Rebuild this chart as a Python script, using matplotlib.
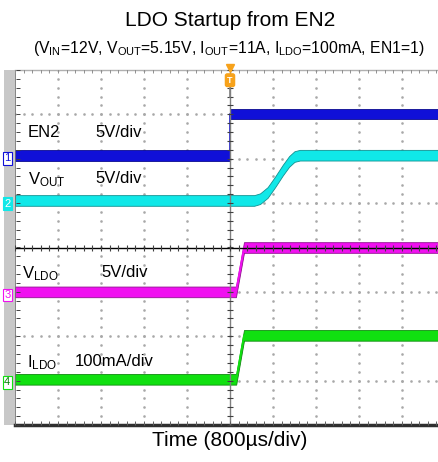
import numpy as np
import matplotlib
matplotlib.use("Agg")
import matplotlib.pyplot as plt
from matplotlib.patches import Rectangle

plt.rcParams['font.family'] = ['Liberation Sans', 'DejaVu Sans']
plt.rcParams['mathtext.fontset'] = 'custom'
plt.rcParams['mathtext.rm'] = 'Liberation Sans'
plt.rcParams['mathtext.it'] = 'Liberation Sans:italic'

# Scope settings
us_per_div = 800
# channel: (volts or mA per div, offset in div)
en2_scale, en2_offset = 5, 2.08
vout_scale, vout_offset = 5, 1.06
vldo_scale, vldo_offset = 5, -1.0
ildo_scale, ildo_offset = 100, -2.97

# Traces (time in us, value in V or mA)
en2_t = [-4000, 0, 0, 4000]
en2_v = [0, 0, 4.65, 4.65]

vout_t = [-4000, 450, 560, 700, 840, 980, 1100, 1200, 1300, 4000]
vout_v = [0, 0, 0.2, 0.9, 2.1, 3.4, 4.4, 4.95, 5.1, 5.1]

vldo_t = [-4000, 110, 260, 4000]
vldo_v = [0, 0, 5.0, 5.0]

ildo_t = [-4000, 115, 260, 4000]
ildo_ma = [0, 0, 99, 99]

c_blue = '#1010d8'
c_cyan = '#10e8e8'
c_mag = '#f010f0'
c_green = '#10e010'
c_orange = '#f7a21b'

W, H = 438, 462
fig = plt.figure(figsize=(W / 100, H / 100), dpi=100)

# gray side bar
x0, x1, yb, yt = 15, 438, 37, 392
fig.patches.append(Rectangle((4 / W, yb / H), (x0 - 4) / W, (yt - yb) / H,
                             transform=fig.transFigure, facecolor='#c8c8c8',
                             edgecolor='none', zorder=0))

ax = fig.add_axes([x0 / W, yb / H, (x1 - x0) / W, (yt - yb) / H])
ax.set_zorder(2)
ax.patch.set_alpha(0)
ax.set_xlim(-5, (x1 - x0) / 43.0 - 5)
ax.set_ylim(-4, 4)
ax.set_xticks([])
ax.set_yticks([])
for s in ['left', 'right']:
    ax.spines[s].set_visible(False)
ax.spines['top'].set_color('#b0b0b0')
ax.spines['top'].set_linewidth(1)
ax.spines['bottom'].set_color('#303030')
ax.spines['bottom'].set_linewidth(2.5)
ax.axvline(-5, color='#707070', lw=1.2, zorder=3)
ax.add_patch(Rectangle((-5, -4), 10, 8, facecolor='white', edgecolor='none',
                       zorder=0))

# dotted graticule
minor_x = np.arange(-5, 5.01, 0.2)
minor_y = np.arange(-4, 4.01, 0.2)
for gx in range(-4, 5):
    if gx == 0:
        continue
    ax.plot(np.full_like(minor_y, gx), minor_y, ls='none', marker='s',
            ms=0.8, color='#a8a8a8', zorder=1)
for gy in range(-3, 4):
    if gy == 0:
        continue
    ax.plot(minor_x, np.full_like(minor_x, gy), ls='none', marker='s',
            ms=0.8, color='#a8a8a8', zorder=1)

# traces: noisy band drawn as a filled strip
half = 0.12
def draw(t, v, scale, off, color, edge):
    x = np.array(t) / us_per_div
    y = np.array(v) / scale + off
    ax.fill_between(x, y - half, y + half, facecolor=color, edgecolor=edge,
                    lw=0.6, zorder=2)
    ax.plot(x, y, color=color, lw=1.2, zorder=2)

draw(en2_t, en2_v, en2_scale, en2_offset, c_blue, '#0a0a90')
draw(vout_t, vout_v, vout_scale, vout_offset, c_cyan, '#109090')
draw(vldo_t, vldo_v, vldo_scale, vldo_offset, c_mag, '#901090')
draw(ildo_t, ildo_ma, ildo_scale, ildo_offset, c_green, '#108a10')

# centre axes with tick marks
ax.axhline(0, color='black', lw=1.0, zorder=4)
ax.axvline(0, color='#808080', lw=1.0, zorder=4)
ax.plot(minor_x, np.zeros_like(minor_x), ls='none', marker='|', ms=4,
        mew=0.8, color='#404040', zorder=4)
ax.plot(np.zeros_like(minor_y), minor_y, ls='none', marker='_', ms=4,
        mew=0.8, color='#404040', zorder=4)
# edge ticks
ax.plot(minor_x, np.full_like(minor_x, 3.97), ls='none', marker='|', ms=3,
        mew=0.7, color='#909090', zorder=4)
ax.plot(minor_x, np.full_like(minor_x, -3.95), ls='none', marker='|', ms=3,
        mew=0.7, color='#606060', zorder=4)
ax.plot(np.full_like(minor_y, -4.93), minor_y, ls='none', marker='_', ms=3,
        mew=0.7, color='#404040', zorder=4)

# trigger marker
ax.plot([0], [4.05], marker='v', ms=6, color=c_orange, clip_on=False, zorder=6)
ax.plot([0, 0], [3.6, 3.4], color='#808080', lw=1.2, zorder=5)
ax.text(0, 3.77, 'T', ha='center', va='center', fontsize=6.5, color='white',
        fontweight='bold', zorder=6,
        bbox=dict(boxstyle='round,pad=0.2', fc=c_orange, ec=c_orange))

# channel markers
chan = [('1', en2_offset, c_blue, 'white', c_blue),
        ('2', vout_offset, 'white', c_cyan, c_cyan),
        ('3', vldo_offset, c_mag, 'white', c_mag),
        ('4', ildo_offset, '#008000', 'white', c_green)]
for lab, off, tc, fc, ec in chan:
    ax.text(-5.18, off - 0.07, lab, ha='center', va='center', fontsize=8,
            color=tc, clip_on=False, zorder=7,
            bbox=dict(boxstyle='square,pad=0.12', fc=fc, ec=ec, lw=0.8))

# channel labels
fs = 12
ax.text(-4.7, 2.6, 'EN2', fontsize=fs, va='center')
ax.text(-3.14, 2.6, '5V/div', fontsize=fs, va='center')
ax.text(-4.7, 1.52, r'$\mathregular{V_{OUT}}$', fontsize=fs, va='center')
ax.text(-3.14, 1.55, '5V/div', fontsize=fs, va='center')
ax.text(-4.83, -0.6, r'$\mathregular{V_{LDO}}$', fontsize=fs, va='center')
ax.text(-3.0, -0.57, '5V/div', fontsize=fs, va='center')
ax.text(-4.73, -2.6, r'$\mathregular{I_{LDO}}$', fontsize=fs, va='center')
ax.text(-3.6, -2.57, '100mA/div', fontsize=fs, va='center')

# titles
fig.text(230 / W, 1 - 20 / H, 'LDO Startup from EN2', ha='center', va='center',
         fontsize=15)
fig.text(229 / W, 1 - 48 / H,
         r'(V$_\mathregular{IN}$=12V, V$_\mathregular{OUT}$=5.15V, '
         r'I$_\mathregular{OUT}$=11A, I$_\mathregular{LDO}$=100mA, EN1=1)',
         ha='center', va='center', fontsize=11.3)
fig.text(230 / W, 1 - 441 / H, 'Time (800\u00b5s/div)', ha='center',
         va='center', fontsize=15)

fig.savefig('out.png', dpi=100)
